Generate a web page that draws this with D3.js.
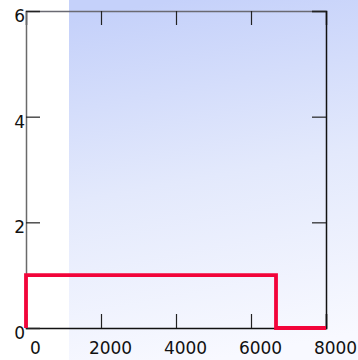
<!DOCTYPE html>
<html>
<head>
<meta charset="utf-8">
<script src="https://cdn.jsdelivr.net/npm/d3@7"></script>
<style>
  html, body { margin: 0; padding: 0; background: #fff; }
  svg { display: block; }
  text { font-family: "DejaVu Sans", sans-serif; font-size: 17px; fill: #111; }
</style>
</head>
<body>
<svg id="chart" width="358" height="360"></svg>
<script>
// Step profile: value 1 from 0 until the cut-off, then 0 to the end
const stepX = [0, 0, 6667, 6667, 8000];
const stepY = [0, 1, 1, 0, 0];

const xTicks = [0, 2000, 4000, 6000, 8000];
const yTicks = [0, 2, 4, 6];
const xDomain = [0, 8000];
const yDomain = [0, 6];

const W = 358, H = 360;
const svg = d3.select("#chart");

const x = d3.scaleLinear().domain(xDomain).range([26, 326]);
const y = d3.scaleLinear().domain(yDomain).range([328, 11]);

// Background wash
const defs = svg.append("defs");
const grad = defs.append("linearGradient")
  .attr("id", "wash")
  .attr("x1", "0.35").attr("y1", "0")
  .attr("x2", "0.5").attr("y2", "1");
grad.append("stop").attr("offset", "0").attr("stop-color", "#c5d1fa");
grad.append("stop").attr("offset", "0.5").attr("stop-color", "#e3e9fc");
grad.append("stop").attr("offset", "1").attr("stop-color", "#f8f9ff");

svg.append("rect")
  .attr("x", 69).attr("y", 0)
  .attr("width", W - 69).attr("height", H)
  .attr("fill", "url(#wash)");

// Frame axes with inward ticks
const tickLen = 14;
const fmt = d3.format("d");

const axBottom = svg.append("g")
  .attr("transform", `translate(0,${y(0)})`)
  .call(d3.axisBottom(x).tickValues(xTicks).tickSize(-tickLen).tickPadding(0).tickFormat(fmt));
axBottom.selectAll("text").attr("dx", 9).attr("y", 14);

const axTop = svg.append("g")
  .attr("transform", `translate(0,${y(6)})`)
  .call(d3.axisTop(x).tickValues(xTicks).tickSize(-tickLen).tickFormat(""));

const axLeft = svg.append("g")
  .attr("transform", `translate(${x(0)},0)`)
  .call(d3.axisLeft(y).tickValues(yTicks).tickSize(-tickLen).tickPadding(2).tickFormat(fmt));
axLeft.selectAll("text").attr("dy", "0.62em").attr("x", -1);

const axRight = svg.append("g")
  .attr("transform", `translate(${x(8000)},0)`)
  .call(d3.axisRight(y).tickValues(yTicks).tickSize(-tickLen).tickFormat(""));

const axes = [axBottom, axTop, axLeft, axRight];
axes.forEach(g => {
  g.selectAll("text").style("font-family", "'DejaVu Sans', sans-serif").style("font-size", "17px").attr("fill", "#111");
  g.selectAll(".tick line").attr("stroke", "#222").attr("stroke-width", 1.2);
});
axBottom.select(".domain").attr("stroke", "#111").attr("stroke-width", 1.5);
axRight.select(".domain").attr("stroke", "#111").attr("stroke-width", 1.5);
axLeft.select(".domain").attr("stroke", "#6a6a6a").attr("stroke-width", 1.5);
axTop.select(".domain").attr("stroke", "#6a6a72").attr("stroke-width", 1.5);

// Step line
const pts = stepX.map((v, i) => [v, stepY[i]]);
svg.append("path")
  .datum(pts)
  .attr("fill", "none")
  .attr("stroke", "#f2043a")
  .attr("stroke-width", 3.8)
  .attr("stroke-linejoin", "miter")
  .attr("d", d3.line().x(d => x(d[0])).y(d => y(d[1])));
</script>
</body>
</html>
